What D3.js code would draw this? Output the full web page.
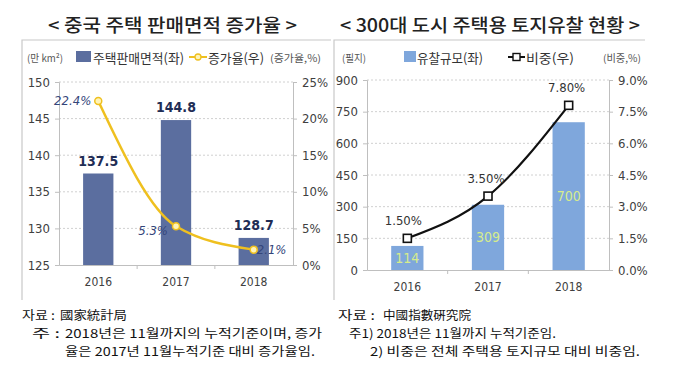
<!DOCTYPE html>
<html>
<head>
<meta charset="utf-8">
<script src="https://cdn.jsdelivr.net/npm/d3@7"></script>
<style>
  body { margin: 0; background: #fff; }
  text { font-family: "Noto Sans CJK KR", "Noto Sans", sans-serif; }
  .num { font-family: "Liberation Sans Narrow", "DejaVu Sans Condensed", "Noto Sans", sans-serif; }
</style>
</head>
<body>
<svg id="chart" width="680" height="374"></svg>
<script>
const years = ["2016", "2017", "2018"]

// left panel: 중국 주택 판매면적
const areaValues = [137.5, 144.8, 128.7]   // 만 km²
const areaGrowth = [22.4, 5.3, 2.1]        // %
const areaTicks = [125, 130, 135, 140, 145, 150]
const growthTicks = [0, 5, 10, 15, 20, 25]

// right panel: 300대 도시 주택용 토지유찰
const failedLots = [114, 309, 700]         // 필지
const failedShare = [1.5, 3.5, 7.8]        // %
const lotTicks = [0, 150, 300, 450, 600, 750, 900]
const shareTicks = [0, 1.5, 3.0, 4.5, 6.0, 7.5, 9.0]

const svg = d3.select("#chart")
const gray = "#bfbfbf"
const labelColor = "#404040"

// panel frames + titles
const panels = [
  { x0: 22, x1: 331, title: "< 중국 주택 판매면적 증가율 >", tx: 48, tw: 249 },
  { x0: 334, x1: 645, title: "< 300대 도시 주택용 토지유찰 현황 >", tx: 340, tw: 300 }
]
panels.forEach(p => {
  svg.append("path")
    .attr("d", `M${p.x0},300 V40 H${p.x1}`)
    .attr("fill", "none").attr("stroke", "#c8c8c8").attr("stroke-width", 1.2)
  svg.append("text")
    .attr("x", p.tx).attr("y", 32)
    .attr("textLength", p.tw).attr("lengthAdjust", "spacingAndGlyphs")
    .attr("font-size", 18).attr("font-weight", 500)
    .attr("fill", "#222")
    .text(p.title)
})

function drawAxes(g, x, yl, yr, lTicks, rTicks, lFmt, rFmt) {
  const [xa, xb] = x.range()
  // gridlines
  g.selectAll(".grid").data(lTicks.slice(1)).enter().append("line")
    .attr("x1", xa).attr("x2", xb)
    .attr("y1", d => yl(d)).attr("y2", d => yl(d))
    .attr("stroke", "#d0d0d0").attr("stroke-dasharray", "2,2")
  const left = g.append("g").attr("transform", `translate(${xa},0)`)
    .call(d3.axisLeft(yl).tickValues(lTicks).tickFormat(lFmt).tickSize(4).tickPadding(5))
  const right = g.append("g").attr("transform", `translate(${xb},0)`)
    .call(d3.axisRight(yr).tickValues(rTicks).tickFormat(rFmt).tickSize(4).tickPadding(5))
  const bottom = g.append("g").attr("transform", `translate(0,${yl.range()[0]})`)
    .call(d3.axisBottom(x).tickSize(0).tickPadding(12))
  // category separator ticks
  const step = x.step()
  g.selectAll(".sep").data(years.slice(1)).enter().append("line")
    .attr("x1", d => x(d) - (step - x.bandwidth()) / 2)
    .attr("x2", d => x(d) - (step - x.bandwidth()) / 2)
    .attr("y1", yl.range()[0]).attr("y2", yl.range()[0] + 4)
    .attr("stroke", gray)
  ;[left, right, bottom].forEach(a => {
    a.select(".domain").attr("stroke", gray)
    a.selectAll(".tick line").attr("stroke", gray)
    a.selectAll("text").attr("class", "num").attr("fill", labelColor).attr("font-size", 13)
  })
  bottom.selectAll("text").attr("font-size", 12)
}

function legendText(x, y, w, size, t, fill) {
  svg.append("text").attr("x", x).attr("y", y)
    .attr("textLength", w).attr("lengthAdjust", "spacingAndGlyphs")
    .attr("font-size", size).attr("fill", fill).text(t)
}

// ---------- left chart ----------
const xL = d3.scaleBand().domain(years).range([59, 293]).paddingInner(0.61).paddingOuter(0.31)
const yL = d3.scaleLinear().domain([125, 150]).range([265, 82])
const yLR = d3.scaleLinear().domain([0, 25]).range([265, 82])
const gL = svg.append("g")
drawAxes(gL, xL, yL, yLR, areaTicks, growthTicks, d3.format("d"), d => d + "%")

const barBlue = "#5b6e9f"
gL.selectAll(".bar").data(areaValues).enter().append("rect")
  .attr("x", (d, i) => xL(years[i]))
  .attr("y", d => yL(d))
  .attr("width", xL.bandwidth())
  .attr("height", d => yL(125) - yL(d))
  .attr("fill", barBlue)
gL.selectAll(".blab").data(areaValues).enter().append("text")
  .attr("class", "num")
  .attr("x", (d, i) => xL(years[i]) + xL.bandwidth() / 2)
  .attr("y", d => yL(d) - 8)
  .attr("text-anchor", "middle")
  .attr("font-size", 14).attr("font-weight", "bold")
  .attr("fill", "#1f2d55")
  .text(d => d.toFixed(1))

const gold = "#efc01f"
const lineL = d3.line()
  .x((d, i) => xL(years[i]) + xL.bandwidth() / 2)
  .y(d => yLR(d))
  .curve(d3.curveMonotoneX)
gL.append("path").datum(areaGrowth)
  .attr("d", lineL).attr("fill", "none").attr("stroke", gold).attr("stroke-width", 2.5)
gL.selectAll(".dot").data(areaGrowth).enter().append("circle")
  .attr("cx", (d, i) => xL(years[i]) + xL.bandwidth() / 2)
  .attr("cy", d => yLR(d))
  .attr("r", 3.5)
  .attr("fill", "#fff4b8").attr("stroke", gold).attr("stroke-width", 1.5)
const growthLabelPos = [{ dx: -7, anchor: "end", dy: 4 }, { dx: -8, anchor: "end", dy: 9 }, { dx: 3, anchor: "start", dy: 4 }]
gL.selectAll(".glab").data(areaGrowth).enter().append("text")
  .attr("class", "num")
  .attr("x", (d, i) => xL(years[i]) + xL.bandwidth() / 2 + growthLabelPos[i].dx)
  .attr("y", d => yLR(d))
  .attr("dy", (d, i) => growthLabelPos[i].dy)
  .attr("text-anchor", (d, i) => growthLabelPos[i].anchor)
  .attr("font-size", 13).attr("font-style", "italic")
  .attr("fill", "#34457a")
  .text(d => d.toFixed(1) + "%")

// left legend
legendText(27, 62, 36, 10, "(만 km²)", "#555")
svg.append("rect").attr("x", 76).attr("y", 51).attr("width", 15).attr("height", 11).attr("fill", barBlue)
legendText(93, 63, 91, 13, "주택판매면적(좌)", "#333")
svg.append("line").attr("x1", 189).attr("x2", 207).attr("y1", 57).attr("y2", 57).attr("stroke", gold).attr("stroke-width", 2)
svg.append("circle").attr("cx", 198).attr("cy", 57).attr("r", 3).attr("fill", "#fff4b8").attr("stroke", gold).attr("stroke-width", 1.3)
legendText(208, 63, 56, 13, "증가율(우)", "#333")
legendText(270, 62, 51, 10, "(증가율,%)", "#555")

// ---------- right chart ----------
const xR = d3.scaleBand().domain(years).range([367, 609]).paddingInner(0.6).paddingOuter(0.3)
const yR = d3.scaleLinear().domain([0, 900]).range([270, 80])
const yRR = d3.scaleLinear().domain([0, 9]).range([270, 80])
const gR = svg.append("g")
drawAxes(gR, xR, yR, yRR, lotTicks, shareTicks, d3.format("d"), d => d.toFixed(1) + "%")

const lightBlue = "#7fa7dc"
gR.selectAll(".bar").data(failedLots).enter().append("rect")
  .attr("x", (d, i) => xR(years[i]))
  .attr("y", d => yR(d))
  .attr("width", xR.bandwidth())
  .attr("height", d => yR(0) - yR(d))
  .attr("fill", lightBlue)
gR.selectAll(".blab").data(failedLots).enter().append("text")
  .attr("class", "num")
  .attr("x", (d, i) => xR(years[i]) + xR.bandwidth() / 2)
  .attr("y", d => (yR(d) + yR(0)) / 2 + 5)
  .attr("text-anchor", "middle")
  .attr("font-size", 14)
  .attr("fill", "#d6ec8c")
  .text(d => d)

const lineR = d3.line()
  .x((d, i) => xR(years[i]) + xR.bandwidth() / 2)
  .y(d => yRR(d))
  .curve(d3.curveMonotoneX)
gR.append("path").datum(failedShare)
  .attr("d", lineR).attr("fill", "none").attr("stroke", "#111").attr("stroke-width", 2.2)
gR.selectAll(".sq").data(failedShare).enter().append("rect")
  .attr("x", (d, i) => xR(years[i]) + xR.bandwidth() / 2 - 4)
  .attr("y", d => yRR(d) - 4)
  .attr("width", 8).attr("height", 8)
  .attr("fill", "#fff").attr("stroke", "#111").attr("stroke-width", 1.6)
gR.selectAll(".slab").data(failedShare).enter().append("text")
  .attr("class", "num")
  .attr("x", (d, i) => xR(years[i]) + xR.bandwidth() / 2 + (i === 0 ? -4 : -2))
  .attr("y", d => yRR(d) - 13)
  .attr("text-anchor", "middle")
  .attr("font-size", 13)
  .attr("fill", "#333")
  .text(d => d.toFixed(2) + "%")

// right legend
legendText(342, 62, 24, 10, "(필지)", "#555")
svg.append("rect").attr("x", 404).attr("y", 51).attr("width", 12).attr("height", 11).attr("fill", lightBlue)
legendText(417, 63, 66, 13, "유찰규모(좌)", "#333")
svg.append("line").attr("x1", 508).attr("x2", 525).attr("y1", 57).attr("y2", 57).attr("stroke", "#111").attr("stroke-width", 2)
svg.append("rect").attr("x", 513).attr("y", 53.5).attr("width", 7).attr("height", 7).attr("fill", "#fff").attr("stroke", "#111").attr("stroke-width", 1.4)
legendText(526, 63, 48, 13, "비중(우)", "#333")
legendText(603, 62, 38, 10, "(비중,%)", "#555")

// ---------- footnotes ----------
const notes = [
  { x: 22, y: 320, w: 33, t: "자료 :" },
  { x: 60, y: 320, w: 67, t: "國家統計局" },
  { x: 32, y: 338, w: 28, t: "주 :" },
  { x: 65, y: 338, w: 257, t: "2018년은 11월까지의 누적기준이며, 증가" },
  { x: 65, y: 356, w: 250, t: "율은 2017년 11월누적기준 대비 증가율임." },
  { x: 338, y: 320, w: 37, t: "자료 :" },
  { x: 383, y: 320, w: 88, t: "中國指數硏究院" },
  { x: 349, y: 338, w: 207, t: "주1) 2018년은 11월까지 누적기준임." },
  { x: 370, y: 356, w: 270, t: "2) 비중은 전체 주택용 토지규모 대비 비중임." }
]
svg.selectAll(".note").data(notes).enter().append("text")
  .attr("x", d => d.x).attr("y", d => d.y)
  .attr("textLength", d => d.w).attr("lengthAdjust", "spacingAndGlyphs")
  .attr("font-size", 12).attr("fill", "#111")
  .text(d => d.t)
</script>
</body>
</html>
